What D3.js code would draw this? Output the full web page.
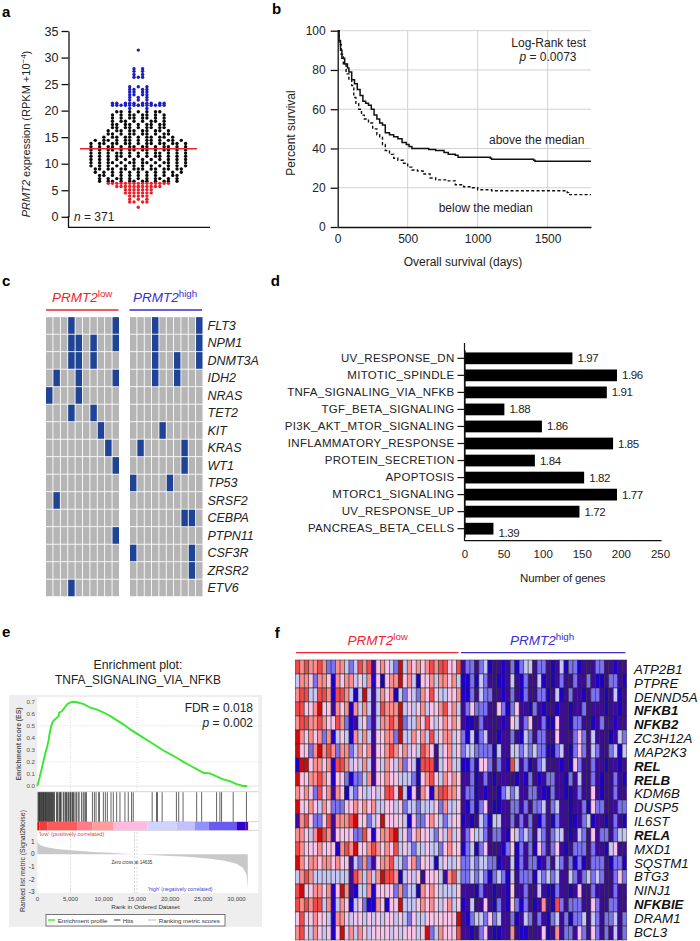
<!DOCTYPE html>
<html><head><meta charset="utf-8">
<script src="https://cdn.jsdelivr.net/npm/d3@7"></script>
<style>
html,body{margin:0;padding:0;background:#fff}
svg{display:block}
text{font-family:"Liberation Sans",Arial,sans-serif;fill:#222}
</style></head><body><svg id="c" width="700" height="941"></svg>
<script>
// ---------- panel a ----------
const exprValues=[31.4,27.9,27.4,26.8,26.3,24.5,24,23.5,23,22.5,22,21.4,21,20.4,19.8,19.2,18.6,18,17.4,16.8,16.2,15.6,15,14.4,13.8,13.2,12.6,12,11.4,10.8,10.2,9.6,9,8.4,7.8,7.2,6.7,6.3,5.7,5.1,4.5,3.9,3.3,2.8,1.8];
const exprCounts=[1,2,2,2,3,3,4,4,4,3,3,10,14,2,7,8,8,8,9,9,10,10,11,13,15,14,14,13,13,12,14,12,15,11,11,11,12,15,12,7,7,5,3,4,1];
const exprMedian=12.8, exprLowCut=6.5, exprHighCut=20.2;
const exprTicks=[0,5,10,15,20,25,30,35];
// ---------- panel b ----------
const survAbove=[[0,100],[10,95],[20,90],[30,86],[50,83],[70,81],[80,79],[100,75],[120,73],[140,70],[160,67],[180,64],[200,63],[220,62],[240,60],[260,57],[280,55],[300,53],[320,52],[340,48],[370,47],[400,46],[430,45],[460,43],[490,42],[510,41],[530,40],[650,39.5],[700,39],[760,38],[790,37],[840,36.5],[860,35.5],[1090,35],[1100,34.5],[1400,34],[1410,33.5],[1810,33.5]];
const survBelow=[[0,100],[10,93],[25,88],[40,83],[60,78],[80,75],[100,72],[115,66],[130,63],[150,60],[170,57],[190,55],[220,53],[250,50],[280,47],[300,46],[320,42],[340,39],[370,37],[400,35],[430,34],[470,32.5],[500,30.5],[530,29],[570,28.5],[610,27],[660,25],[700,24],[790,23.5],[840,21.5],[900,20.5],[950,20],[1000,19],[1100,18.5],[1600,18.5],[1640,17.5],[1650,16.5],[1810,16.5]];
const survXTicks=[0,500,1000,1500], survYTicks=[0,20,40,60,80,100];
// ---------- panel c ----------
const mutGenes=["FLT3","NPM1","DNMT3A","IDH2","NRAS","TET2","KIT","KRAS","WT1","TP53","SRSF2","CEBPA","PTPN11","CSF3R","ZRSR2","ETV6"];
const mutLow=[[3,9],[3,4,6,9],[3,4,6],[1,4,9],[0,4],[3,6],[7],[8],[9],[],[1],[],[9],[],[],[3]];
const mutHigh=[[3,9],[3,9],[3,6,9],[3,6],[],[],[4],[1,7],[7],[0,5],[],[7,8],[],[0,8],[8],[]];
// ---------- panel d ----------
const pathways=["UV_RESPONSE_DN","MITOTIC_SPINDLE","TNFA_SIGNALING_VIA_NFKB","TGF_BETA_SIGNALING","PI3K_AKT_MTOR_SIGNALING","INFLAMMATORY_RESPONSE","PROTEIN_SECRETION","APOPTOSIS","MTORC1_SIGNALING","UV_RESPONSE_UP","PANCREAS_BETA_CELLS"];
const pathwayGenes=[138,195,182,51,99,190,90,153,195,147,37];
const pathwayNES=["1.97","1.96","1.91","1.88","1.86","1.85","1.84","1.82","1.77","1.72","1.39"];
const geneTicks=[0,50,100,150,200,250];
// ---------- panel e ----------
const esCurve=[[0,0],[300,.06],[600,.13],[900,.2],[1200,.27],[1500,.33],[1700,.38],[1900,.45],[2100,.5],[2300,.53],[2600,.55],[3000,.57],[3200,.58],[3300,.61],[3700,.62],[4100,.65],[4500,.68],[5000,.695],[5500,.7],[6000,.695],[7000,.68],[8000,.65],[9000,.635],[10000,.61],[11000,.58],[12000,.545],[13000,.51],[14000,.47],[15000,.435],[16000,.4],[17000,.365],[18000,.33],[19000,.295],[20000,.265],[21000,.235],[22000,.2],[23000,.17],[24000,.14],[25000,.11],[26000,.105],[27000,.08],[28000,.055],[29000,.04],[30000,.015],[31000,0],[31600,0]];
const hitRanks=[100,200,300,350,450,550,600,700,800,900,950,1050,1150,1250,1300,1400,1500,1600,1650,1750,1850,1950,2050,2100,2200,2300,2400,2500,2600,2900,3000,3100,3300,3400,3500,3600,3900,4000,4200,4300,4400,4600,4700,4900,5000,5100,5300,5400,5500,5700,5900,6150,6300,6650,6900,7050,7250,7400,8300,8600,8850,9250,9350,9950,10250,10550,11100,11450,11950,12450,13200,13700,14200,14450,17300,17950,18100,18800,20950,21300,21950,24000,24750,27000,27500,27750,29500,31500];
const rankBarEdges=[0,300,1550,6000,8300,11500,16600,21000,23700,25800,30000,31400,31750];
const rankMetric=[[0,1.15],[100,.9],[500,.72],[1000,.62],[2000,.5],[3000,.42],[5000,.32],[7000,.24],[9000,.17],[11000,.12],[13000,.05],[14635,0],[16000,-.02],[17000,-.05],[18000,-.08],[20000,-.13],[22000,-.18],[24000,-.25],[26000,-.35],[28000,-.5],[30000,-.75],[31000,-1.1],[31500,-1.6],[31700,-2.7]];
const esTicks=[0,.1,.2,.3,.4,.5,.6,.7], metricTicks=[1,0,-1,-2,-3], rankTicks=[0,5000,10000,15000,20000,25000,30000];
// ---------- panel f ----------
const heatGenes=["ATP2B1","PTPRE","DENND5A","NFKB1","NFKB2","ZC3H12A","MAP2K3","REL","RELB","KDM6B","DUSP5","IL6ST","RELA","MXD1","SQSTM1","BTG3","NINJ1","NFKBIE","DRAM1","BCL3"];
const heatBold=["NFKB1","NFKB2","REL","RELB","RELA","NFKBIE"];
const heatLow=[
"gfgffgfccf fdcdgfgaef edchdfefef gfggeeg",
"dffecffebf effdedfbeb effhefdbee fdffefd",
"fggddggfbg gfdbdhdadf efbdcedcfe geddeef",
"ggeefheeaf efbfdfdadg fffhdedefd eefgefd",
"fggffgfeeg fcbadecadf fgfhcddfeg edefefe",
"hfefefcfbd edbfdfdaee ffchddfefd gdeffde",
"heecfhfgfc ffcdfefaee fgfefdedgf eadefde",
"bhheffefbg gfdedfdaed fedfcedbgg gadefdd",
"heeffgfebe ecbccdfaee feedddcbef gedfefe",
"fefecgefaf ebdceddede ggehdbeafe bfggffe",
"heefedfecc ceefefefdd eedecddcdd decfdde",
"afgeccegaf ffgheecdeh eeeedbecce fedcdee",
"ffedfhgfae eeeccgebef fghdecefee dcedfde",
"gfeeefeeeb fgfheefgfe fegdedcdde ddcefee",
"hfeffeffef eeadcfcaef fgddcefcee dbdedde",
"dfgfdddddd ddagfdfdfh ggfbdedeae eedafgd",
"gheeffefbe hfabddfbee eecfcddbfe fedddde",
"gfgfggdfbd febdecbbfe beehdddefe fedefde",
"egeefeedbf fedeededed eededcedde eeeeeeh",
"fgedfedebe hefdfedeee ededeeedeh cdfeeeg"];
const heatHigh=[
"accacdbaab acbcddacca badbccbaaa ccaabaa",
"bbcbdcaabb adabcaadba bacaacaaca bbaccab",
"bbcadccaab acabcaaccb adbacaabac cabadba",
"acecccaaec bceaabcaba abaabaacaa aabaaba",
"abbacaaaab aedaceaacb beaabccaab acaabaa",
"cbdbcdaaba acabdcacca aeaaacecad aaabadc",
"cddccccbda addcdcdccb bcdabcecad caacdbd",
"bbcbeecaca bgdacbacda aababecaac aabaaba",
"aacbacabaa aababcabac caabcadaac abaacab",
"accbabaabc dcdaaccabb caabbacaae abaacaa",
"abcbceabba accacaccda cdaabaacbe ccaaacc",
"babadcbdda acacacabca bcaabbacdb aabacab",
"aceddcacca bedcdcadca cddabadcae accacdd",
"bcdbceaaab cebcacbeca ceabacccac aabdeaa",
"ccdcddccba adbcaccbac adcacbcbac ccabccb",
"ccdcdcbcdc bdacccbdcd cdaadcacdc dcaacec",
"aaabcaabaa beaacaadab bcaabaeaac aaaacaa",
"badaaeabca becbcabafa bgcacccaae caaccaa",
"abcddcecda acbadcacab cdacbccdad caccdac",
"aabaceabba afabbaaaeb afaccaecae cacadac"];
const heatLevels=["a","b","c","d","e","f","g","h"];

// ========== drawing ==========
const svg=d3.select("#c");
const RED="#ee2530", BLUE="#3a2fd0";
function T(g,x,y,parts,o={}){
  const t=g.append("text").attr("x",x).attr("y",y).attr("font-size",o.size||12)
    .attr("text-anchor",o.anchor||"start").attr("fill",o.fill||"#222");
  if(o.rot!==undefined) t.attr("transform",`rotate(${o.rot} ${x} ${y})`);
  if(o.weight) t.attr("font-weight",o.weight);
  if(o.ls) t.attr("letter-spacing",o.ls);
  if(typeof parts==="string") parts=[{t:parts}];
  parts.forEach(p=>{
    const s=t.append("tspan").text(p.t).style("fill",p.fill||o.fill||"#222");
    if(p.i) s.attr("font-style","italic");
    if(p.sup){s.attr("baseline-shift","super").attr("font-size",(o.size||12)*.72)}
  });
  return t;
}
function styleAxis(g,w,tc,fs){
  g.selectAll(".domain").attr("stroke","#111").attr("stroke-width",w);
  g.selectAll(".tick line").attr("stroke",tc||"#111").attr("stroke-width",w);
  g.selectAll(".tick text").attr("font-size",fs).attr("font-family",'"Liberation Sans",Arial,sans-serif').style("fill","#222");
}
[["a",2,17],["b",272,14],["c",2,285.7],["d",270.7,285.7],["e",2,637],["f",274.7,638]].forEach(d=>
  T(svg,d[1],d[2],d[0],{size:15,weight:"bold",fill:"#000"}));

// --- a
{
  const g=svg.append("g");
  const y=d3.scaleLinear().domain([0,35]).range([216.8,31]);
  const cx=138.3, step=4.3;
  const half=d3.scaleLinear()
    .domain([1.8,2.8,3.3,3.9,4.5,5.1,5.7,6.3,6.7,7.2,9,10.5,14,14.5,15,17,19.8,20.4,21,21.5,22,28,31.4])
    .range([0,10,10,8,10,14,22,29,38,38,45,46,46,42,33,27,23,10,27,25,10,4,0]);
  exprValues.forEach((v,li)=>{
    const n=exprCounts[li], hw=Math.max(half(v),(n-1)/2*3.6);
    d3.range(n).forEach(i=>{
      const off=n>1?(i-(n-1)/2)/((n-1)/2)*hw:0;
      const col=Math.round(off/step)*step;
      g.append("circle").attr("cx",cx+col).attr("cy",y(v)).attr("r",1.7)
        .attr("fill",v<exprLowCut?"#ee1c25":v>exprHighCut?"#1c1cc4":"#0a0a0a");
    });
  });
  g.append("line").attr("x1",80).attr("x2",197).attr("y1",y(exprMedian)).attr("y2",y(exprMedian)).attr("stroke",RED).attr("stroke-width",1.5);
  const ax=g.append("g").attr("transform","translate(68.5,0)").call(d3.axisLeft(y.copy().domain([0,35])).tickValues(exprTicks).tickSize(7).tickPadding(3).tickSizeOuter(0));
  styleAxis(ax,1.3,"#111",12.5);
  g.append("line").attr("x1",68.5).attr("x2",68.5).attr("y1",216).attr("y2",227.5).attr("stroke","#111").attr("stroke-width",1.3);
  g.append("line").attr("x1",68).attr("x2",210).attr("y1",227.3).attr("y2",227.3).attr("stroke","#111").attr("stroke-width",1.3);
  T(g,74,220.5,[{t:"n",i:1},{t:" = 371"}],{size:12});
  T(g,30,134,[{t:"PRMT2",i:1},{t:" expression (RPKM +10"},{t:"−4",sup:1},{t:")"}],{size:11,anchor:"middle",rot:-90});
}
// --- b
{
  const g=svg.append("g");
  const x=d3.scaleLinear().domain([0,1810]).range([337.7,591]);
  const y=d3.scaleLinear().domain([0,100]).range([227,30.7]);
  survYTicks.filter(v=>v>0).forEach(v=>g.append("line").attr("x1",x(0)).attr("x2",x(1810)).attr("y1",y(v)).attr("y2",y(v)).attr("stroke","#d2d2d2").attr("stroke-width",1));
  survXTicks.filter(v=>v>0).forEach(v=>g.append("line").attr("x1",x(v)).attr("x2",x(v)).attr("y1",y(0)).attr("y2",y(100)).attr("stroke","#d2d2d2").attr("stroke-width",1));
  const ln=d3.line().x(d=>x(d[0])).y(d=>y(d[1])).curve(d3.curveStepAfter);
  g.append("path").attr("d",ln(survBelow)).attr("fill","none").attr("stroke","#111").attr("stroke-width",1.4).attr("stroke-dasharray","3 2.2");
  g.append("path").attr("d",ln(survAbove)).attr("fill","none").attr("stroke","#111").attr("stroke-width",1.5);
  const ay=g.append("g").attr("transform",`translate(${x(0)},0)`).call(d3.axisLeft(y).tickValues(survYTicks).tickSize(7).tickPadding(5).tickSizeOuter(0));
  styleAxis(ay,1.3,"#111",12);
  const ax=g.append("g").attr("transform",`translate(0,${y(0)})`).call(d3.axisBottom(x).tickValues(survXTicks).tickFormat(d3.format("d")).tickSize(0).tickPadding(7).tickSizeOuter(0));
  styleAxis(ax,1.3,"#111",12);
  T(g,548.7,47,"Log-Rank test",{size:12,anchor:"middle"});
  T(g,548,61,[{t:"p",i:1},{t:" = 0.0073"}],{size:12,anchor:"middle"});
  T(g,536.7,144,"above the median",{size:12,anchor:"middle"});
  T(g,485.7,211.5,"below the median",{size:12,anchor:"middle"});
  T(g,463,266,"Overall survival (days)",{size:12,anchor:"middle"});
  T(g,295,133,"Percent survival",{size:12,anchor:"middle",rot:-90});
}
// --- c
{
  const g=svg.append("g");
  const rowY=d3.scaleBand().domain(mutGenes).range([316.7,596.7]).paddingInner(.05).paddingOuter(.025);
  const cols=d3.range(10);
  const draw=(x0,x1,muts)=>{
    const cx=d3.scaleBand().domain(cols).range([x0,x1]).paddingInner(.12);
    mutGenes.forEach((gene,r)=>cols.forEach(c=>{
      g.append("rect").attr("x",cx(c)).attr("y",rowY(gene)).attr("width",cx.bandwidth()).attr("height",rowY.bandwidth())
       .attr("fill",muts[r].includes(c)?"#1f4496":"#b5b5b5");
    }));
  };
  draw(46,119,mutLow); draw(130,202.5,mutHigh);
  g.append("line").attr("x1",46).attr("x2",118.5).attr("y1",310).attr("y2",310).attr("stroke",RED).attr("stroke-width",1.3);
  g.append("line").attr("x1",129.5).attr("x2",202).attr("y1",310).attr("y2",310).attr("stroke",BLUE).attr("stroke-width",1.3);
  T(g,52,302,[{t:"PRMT2",i:1},{t:"low",sup:1}],{size:13.5,fill:RED});
  T(g,133,302,[{t:"PRMT2",i:1},{t:"high",sup:1}],{size:13.5,fill:BLUE});
  mutGenes.forEach(gene=>{
    T(g,207.5,rowY(gene)+rowY.bandwidth()/2+4.5,[{t:gene,i:1}],{size:12.5});
  });
}
// --- d
{
  const g=svg.append("g");
  const x=d3.scaleLinear().domain([0,250]).range([464.5,660]);
  const y=d3.scaleBand().domain(pathways).range([349.8,537.2]).paddingInner(.31).paddingOuter(.155);
  pathways.forEach((p,i)=>{
    g.append("rect").attr("x",x(0)).attr("y",y(p)).attr("width",x(pathwayGenes[i])-x(0)).attr("height",y.bandwidth()).attr("fill","#000");
    T(g,x(pathwayGenes[i])+5,y(p)+y.bandwidth()/2+4+(i===10?4:0),pathwayNES[i],{size:11.5,ls:-.4});
  });
  const ay=g.append("g").attr("transform",`translate(${x(0)},0)`).call(d3.axisLeft(y).tickSize(7).tickPadding(3).tickSizeOuter(0));
  styleAxis(ay,1.2,"#111",11.5);
  ay.selectAll(".tick text").attr("letter-spacing",.3);
  g.append("line").attr("x1",464.5).attr("x2",464.5).attr("y1",343).attr("y2",541).attr("stroke","#111").attr("stroke-width",1.2);
  const ax=g.append("g").attr("transform","translate(0,540.7)").call(d3.axisBottom(x).tickValues(geneTicks).tickSize(0).tickPadding(9).tickSizeOuter(0));
  styleAxis(ax,1.2,"#111",11.5);
  ax.select(".domain").attr("d","M464.5,0H661.5");
  T(g,562.7,582,"Number of genes",{size:11.5,anchor:"middle",ls:-.2});
}
// --- e
{
  const g=svg.append("g");
  T(g,138,669,"Enrichment plot:",{size:12.3,anchor:"middle"});
  T(g,138,684,"TNFA_SIGNALING_VIA_NFKB",{size:11.9,anchor:"middle"});
  g.append("rect").attr("x",9).attr("y",695).attr("width",253).attr("height",232).attr("fill","#eeeeee");
  const x=d3.scaleLinear().domain([0,30000]).range([37.3,236.5]);
  g.append("rect").attr("x",37.3).attr("y",697).attr("width",221).attr("height",196).attr("fill","#fff");
  const yE=d3.scaleLinear().domain([0,.7]).range([786,701.7]);
  const yM=d3.scaleLinear().domain([1,-3]).range([841.7,892]);
  const grid="#d4d4d4";
  [5000,15000].forEach(v=>{
    g.append("line").attr("x1",x(v)).attr("x2",x(v)).attr("y1",697).attr("y2",791).attr("stroke",grid).attr("stroke-width",.8).attr("stroke-dasharray","1 1.5");
    g.append("line").attr("x1",x(v)).attr("x2",x(v)).attr("y1",832).attr("y2",893).attr("stroke",grid).attr("stroke-width",.8).attr("stroke-dasharray","2 1.5");
  });
  [.2,.5].forEach(v=>g.append("line").attr("x1",37.3).attr("x2",258.3).attr("y1",yE(v)).attr("y2",yE(v)).attr("stroke",grid).attr("stroke-width",.8).attr("stroke-dasharray","1 1.5"));
  g.append("line").attr("x1",37.3).attr("x2",258.3).attr("y1",yE(0)).attr("y2",yE(0)).attr("stroke","#ddd").attr("stroke-width",.8);
  g.append("path").attr("d",d3.line().x(d=>x(d[0])).y(d=>yE(d[1]))(esCurve)).attr("fill","none").attr("stroke","#38e82c").attr("stroke-width",1.9);
  [791.7,821.7,830.3].forEach(v=>g.append("line").attr("x1",37.3).attr("x2",258.3).attr("y1",v).attr("y2",v).attr("stroke","#c8c8c8").attr("stroke-width",.8));
  hitRanks.forEach(r=>g.append("line").attr("x1",x(r)).attr("x2",x(r)).attr("y1",792.2).attr("y2",821.7).attr("stroke","#111").attr("stroke-width",.95).attr("opacity",.68));
  const barColor=d3.scaleOrdinal().domain(d3.range(12)).range(["#e01010","#f03c3c","#ff5a5a","#ff7c88","#ff9c9c","#ffbbdf","#d2d2ff","#c4c0ff","#9090ff","#6a5af0","#2e00d0","#5010a0"]);
  rankBarEdges.slice(0,-1).forEach((e,i)=>g.append("rect").attr("x",x(e)).attr("y",822).attr("width",x(rankBarEdges[i+1])-x(e)).attr("height",8.2).attr("fill",barColor(i)));
  g.append("path").attr("d",d3.area().x(d=>x(d[0])).y0(yM(0)).y1(d=>yM(d[1]))(rankMetric)).attr("fill","#c9c9c9");
  g.append("line").attr("x1",x(14635)).attr("x2",x(14635)).attr("y1",832).attr("y2",893).attr("stroke","#bbb").attr("stroke-width",.7).attr("stroke-dasharray","2 1.5");
  const small={size:6.2,fill:"#555"};
  esTicks.forEach(v=>T(g,35,yE(v)+2.2,v.toFixed(1),{...small,anchor:"end"}));
  metricTicks.forEach(v=>T(g,34.5,yM(v)+2.2,String(v),{...small,anchor:"end",size:6.5,fill:"#333"}));
  rankTicks.forEach(v=>T(g,x(v),901,d3.format(",")(v),{size:6,anchor:"middle",fill:"#444"}));
  T(g,21,744,"Enrichment score (ES)",{size:6.8,anchor:"middle",rot:-90,weight:"bold",fill:"#555"});
  T(g,25,861,"Ranked list metric (Signal2Noise)",{size:6.9,anchor:"middle",rot:-90,fill:"#333"});
  T(g,145.5,909,"Rank in Ordered Dataset",{size:6.2,anchor:"middle",fill:"#333"});
  T(g,39,835.5,"'low' (positively correlated)",{size:5.6,fill:"#e83a3a"});
  T(g,148,891,"'high' (negatively correlated)",{size:5.2,fill:"#4a3ae0"});
  T(g,132,863.5,"Zero cross at 14635",{size:4.6,anchor:"middle",fill:"#333"});
  T(g,253,712,"FDR = 0.018",{size:12,anchor:"end"});
  T(g,253,727,[{t:"p",i:1},{t:" = 0.002"}],{size:12,anchor:"end"});
  g.append("rect").attr("x",46).attr("y",914.5).attr("width",179).attr("height",11.5).attr("fill","#fff").attr("stroke","#555").attr("stroke-width",.8);
  g.append("line").attr("x1",48).attr("x2",55).attr("y1",920).attr("y2",920).attr("stroke","#38e82c").attr("stroke-width",1.4);
  T(g,57.7,922.5,"Enrichment profile",{size:6.2,fill:"#333"});
  g.append("line").attr("x1",114).attr("x2",120.5).attr("y1",920).attr("y2",920).attr("stroke","#333").attr("stroke-width",1);
  T(g,122.7,922.5,"Hits",{size:6.2,fill:"#333"});
  g.append("line").attr("x1",148).attr("x2",156).attr("y1",920).attr("y2",920).attr("stroke","#bbb").attr("stroke-width",1);
  T(g,158.7,922.5,"Ranking metric scores",{size:6.2,fill:"#333"});
}
// --- f
{
  const g=svg.append("g");
  const nCols=74, x=d3.scaleBand().domain(d3.range(nCols)).range([295.3,626.7]);
  const y=d3.scaleBand().domain(heatGenes).range([660,940]);
  const col=d3.scaleOrdinal().domain(heatLevels).range(["#3c0c98","#1e00c8","#7a72ee","#c6c6f4","#f8c4e8","#fa8e8e","#f24a4a","#cf0a0a"]);
  heatGenes.forEach((gene,r)=>{
    const cells=(heatLow[r]+heatHigh[r]).replace(/ /g,"").split("");
    cells.forEach((c,i)=>g.append("rect").attr("x",x(i)).attr("y",y(gene)).attr("width",x.bandwidth()).attr("height",y.bandwidth())
       .attr("fill",col(c)).attr("stroke","#2a2a2a").attr("stroke-opacity",.8).attr("stroke-width",.65));
  });
  g.append("line").attr("x1",296).attr("x2",458.5).attr("y1",652.7).attr("y2",652.7).attr("stroke",RED).attr("stroke-width",1.2);
  g.append("line").attr("x1",461).attr("x2",625.5).attr("y1",652.7).attr("y2",652.7).attr("stroke",BLUE).attr("stroke-width",1.2);
  T(g,347.5,645,[{t:"PRMT2",i:1},{t:"low",sup:1}],{size:13.5,fill:RED});
  T(g,510,645,[{t:"PRMT2",i:1},{t:"high",sup:1}],{size:13.5,fill:BLUE});
  heatGenes.forEach((gene,i)=>{
    const t=T(g,634,674+i*13.83,[{t:gene,i:1}],{size:13.3,fill:"#111"});
    if(heatBold.includes(gene)) t.attr("font-weight","bold");
  });
}
</script></body></html>
